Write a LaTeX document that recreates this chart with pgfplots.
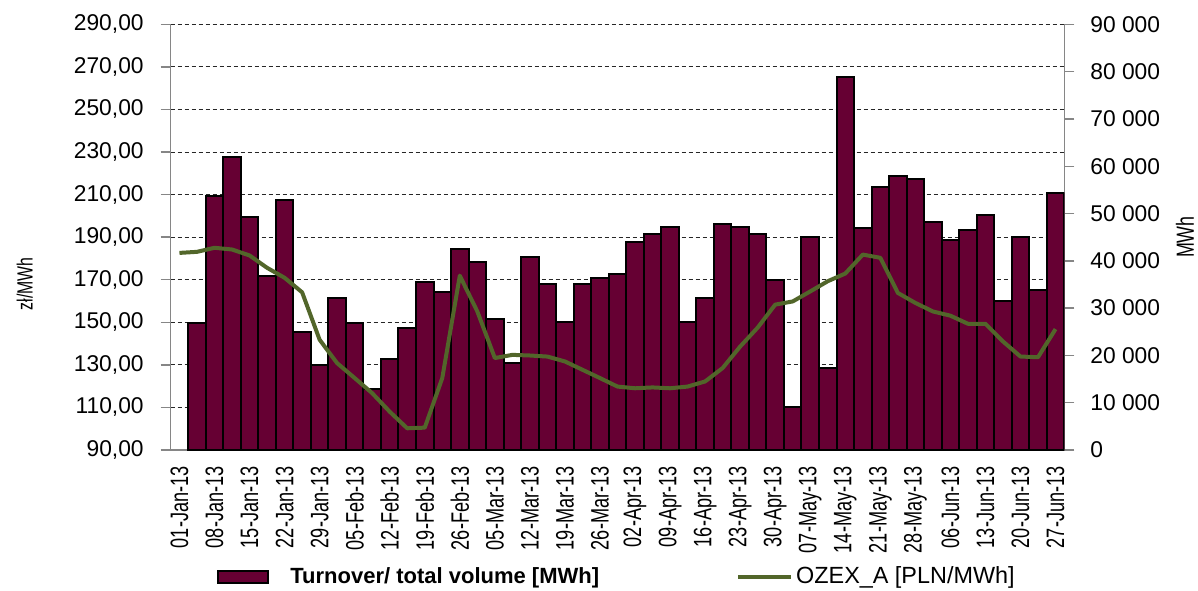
\documentclass[border=0pt]{standalone}
\usepackage{fontspec}
\setmainfont{Liberation Sans}
\newfontfamily\condfont[FakeStretch=0.72]{Liberation Sans}
\usepackage{pgfplots}
\pgfplotsset{compat=1.18}
\usepackage{pgfplotstable}

\definecolor{barcol}{RGB}{102,0,51}
\definecolor{linecol}{RGB}{82,102,42}
\definecolor{axcol}{RGB}{134,134,134}

% weekly turnover [MWh], right axis (slot 0 has no bar)
\pgfplotstableread{
x vol
1 26800
2 53600
3 62000
4 49300
5 36800
6 52900
7 24900
8 18000
9 32200
10 26800
11 12900
12 19200
13 25700
14 35600
15 33500
16 42600
17 39800
18 27700
19 18300
20 40700
21 35200
22 27000
23 35000
24 36400
25 37200
26 43900
27 45600
28 47200
29 27000
30 32200
31 47800
32 47200
33 45600
34 35900
35 9000
36 45100
37 17300
38 78800
39 47000
40 55500
41 57900
42 57400
43 48100
44 44500
45 46500
46 49700
47 31600
48 45100
49 33800
50 54300
}\voltable

% OZEX_A price [PLN/MWh], left axis
\pgfplotstableread{
x price
0 182.6
1 183.1
2 185.0
3 184.2
4 181.4
5 175.6
6 170.9
7 164.1
8 141.8
9 130.8
10 123.8
11 116.7
12 108.0
13 100.2
14 100.5
15 123.8
16 171.9
17 155.1
18 133.2
19 134.7
20 134.4
21 133.9
22 131.6
23 127.7
24 123.8
25 119.8
26 119.0
27 119.4
28 119.0
29 119.8
30 122.2
31 128.5
32 138.6
33 147.5
34 158.3
35 159.8
36 164.5
37 169.3
38 172.9
39 181.8
40 180.3
41 163.8
42 159.1
43 155.1
44 153.1
45 149.3
46 149.3
47 141.0
48 133.9
49 133.6
50 146.8
}\pricetable

\pgfplotsset{
  common/.style={
    at={(0pt,0pt)}, anchor=south west,
    scale only axis, width=446.8pt, height=212.85pt,
    xmin=-0.5, xmax=50.5,
    axis line style={axcol, line width=0.7pt},
    tick style={axcol, line width=0.7pt},
    tick align=outside,
    /pgf/number format/assume math mode=true,
  },
}

\begin{document}
\begin{tikzpicture}
\path[use as bounding box] (-85.35pt,-70pt) rectangle (513.65pt,225pt);

\begin{axis}[
  common,
  ymin=0, ymax=90000,
  axis x line*=bottom, axis y line*=right,
  ytick={0,10000,...,90000},
  scaled y ticks=false,
  /pgf/number format/1000 sep={\ },
  major tick length=5pt,
  y tick label style={font=\fontsize{11.4}{13}\selectfont, xshift=4.5pt},
  extra y ticks={9000,18000,27000,36000,45000,54000,63000,72000,81000,90000},
  extra y tick style={grid=major, major tick length=0pt, yticklabel={}},
  major grid style={black!85, line width=0.5pt, dash pattern=on 2pt off 1.5pt},
  xtick={0,2,...,50},
  xticklabels={01-Jan-13,08-Jan-13,15-Jan-13,22-Jan-13,29-Jan-13,05-Feb-13,12-Feb-13,19-Feb-13,26-Feb-13,05-Mar-13,12-Mar-13,19-Mar-13,26-Mar-13,02-Apr-13,09-Apr-13,16-Apr-13,23-Apr-13,30-Apr-13,07-May-13,14-May-13,21-May-13,28-May-13,06-Jun-13,13-Jun-13,20-Jun-13,27-Jun-13},
  x tick label style={font=\condfont\fontsize{12.6}{14}\selectfont, rotate=90, anchor=east, inner sep=0pt, xshift=-3pt},
  x tick style={draw=none},
  minor xtick={-0.5,0.5,...,50.5},
  minor x tick style={axcol, line width=0.7pt},
  minor tick length=3pt,
  ylabel={MWh},
  ylabel style={font=\condfont\fontsize{12.4}{14}\selectfont, at={(axis description cs:1.135,0.5)}, anchor=center},
  legend columns=2,
  legend style={at={(0.5,-0.298)}, anchor=center, draw=none, fill=none,
    font=\fontsize{11}{13}\selectfont, nodes={inner sep=1.5pt},
    /tikz/column 2/.style={column sep=67pt}},
]
\addplot[ybar, bar width=1, bar shift=0pt, fill=barcol, draw=black, line width=1pt,
  legend image code/.code={\draw[fill=barcol, draw=black, line width=1pt] (0pt,-3pt) rectangle (25pt,3pt); \path (34pt,0pt);}]
  table[x=x, y=vol] {\voltable};
\addlegendentry{\textbf{Turnover/ total volume [MWh]}}
\addlegendimage{linecol, line width=2pt, legend image code/.code={\draw[linecol, line width=2pt] (0pt,0pt) -- (26.5pt,0pt);}}
\addlegendentry{\fontsize{11.7}{13}\selectfont OZEX\_A [PLN/MWh]}
\end{axis}

\begin{axis}[
  common,
  ymin=90, ymax=290,
  axis y line*=left, axis x line=none,
  ytick={90,110,...,290},
  major tick length=5pt,
  /pgf/number format/fixed,
  /pgf/number format/fixed zerofill,
  /pgf/number format/precision=2,
  /pgf/number format/use comma,
  /pgf/number format/1000 sep={},
  y tick label style={font=\fontsize{11.4}{13}\selectfont, xshift=-5pt},
  ylabel={zł/MWh},
  ylabel style={font=\condfont\fontsize{11}{13}\selectfont, at={(axis description cs:-0.1634,0.39)}, anchor=center},
]
\addplot[linecol, line width=2pt, line join=round, no markers] table[x=x, y=price] {\pricetable};
\end{axis}
\end{tikzpicture}
\end{document}
